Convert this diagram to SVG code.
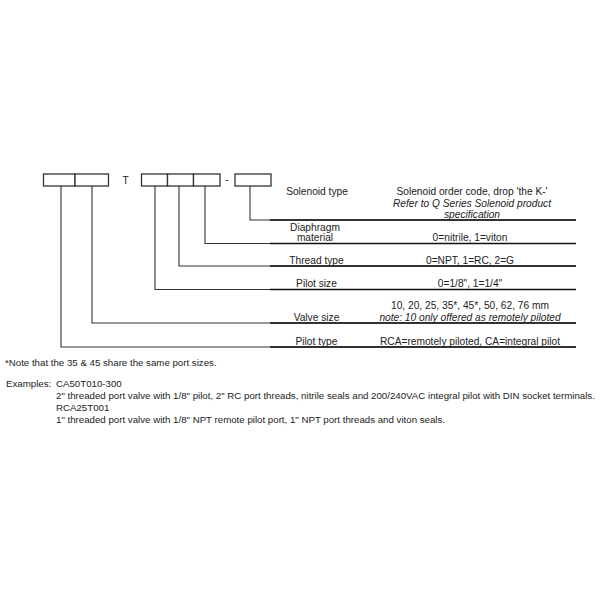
<svg xmlns="http://www.w3.org/2000/svg" width="600" height="600" viewBox="0 0 600 600">
<style>
text{font-family:"Liberation Sans",Arial,sans-serif;font-size:10.2px;fill:#222}
.c{text-anchor:middle}
.i{font-style:italic}
.box{fill:#fff;stroke:#333;stroke-width:1.3}
.lead{fill:none;stroke:#333;stroke-width:1.1}
.rule{stroke:#111;stroke-width:1.4}
.s{font-size:9.7px}
</style>
<rect width="600" height="600" fill="#fff"/>
<g id="code-boxes">
<g id="box-pilot-type"><rect class="box" x="43.5" y="174" width="31.5" height="12"/></g>
<g id="box-valve-size"><rect class="box" x="75" y="174" width="33.5" height="12"/></g>
<text x="125.5" y="183.5" class="c">T</text>
<g id="box-pilot-size"><rect class="box" x="141.5" y="174" width="26" height="12"/></g>
<g id="box-thread"><rect class="box" x="167.5" y="174" width="26" height="12"/></g>
<g id="box-diaphragm"><rect class="box" x="193.5" y="174" width="26.5" height="12"/></g>
<text x="227" y="183" class="c">-</text>
<g id="box-solenoid"><rect class="box" x="235" y="174" width="36" height="12"/></g>
</g>
<g id="connectors">
<polyline class="lead" points="250,186 250,220 576,220"/>
<polyline class="lead" points="205,186 205,243.5 576,243.5"/>
<polyline class="lead" points="179,186 179,266 576,266"/>
<polyline class="lead" points="155,186 155,289.5 576,289.5"/>
<polyline class="lead" points="92,186 92,323 576,323"/>
<polyline class="lead" points="61,186 61,347 576,347"/>
<line class="rule" x1="270" y1="220" x2="576" y2="220"/>
<line class="rule" x1="270" y1="243.5" x2="576" y2="243.5"/>
<line class="rule" x1="270" y1="266" x2="576" y2="266"/>
<line class="rule" x1="270" y1="289.5" x2="576" y2="289.5"/>
<line class="rule" x1="270" y1="323" x2="576" y2="323"/>
<line class="rule" x1="270" y1="347" x2="576" y2="347"/>
</g>
<g id="row-solenoid">
<text x="317" y="195" class="c">Solenoid type</text>
<text x="472" y="195" class="c">Solenoid order code, drop 'the K-'</text>
<text x="472" y="207" class="c i">Refer to Q Series Solenoid product</text>
<text x="472" y="218" class="c i">specification</text>
</g>
<g id="row-diaphragm">
<text x="315" y="231" class="c">Diaphragm</text>
<text x="315" y="241" class="c">material</text>
<text x="470" y="241" class="c">0=nitrile, 1=viton</text>
</g>
<g id="row-thread">
<text x="316.5" y="263.5" class="c">Thread type</text>
<text x="470" y="263.5" class="c">0=NPT, 1=RC, 2=G</text>
</g>
<g id="row-pilot-size">
<text x="316.5" y="287" class="c">Pilot size</text>
<text x="470" y="287" class="c">0=1/8", 1=1/4"</text>
</g>
<g id="row-valve-size">
<text x="470" y="309" class="c">10,  20, 25, 35*, 45*, 50, 62, 76 mm</text>
<text x="470" y="321" class="c i">note: 10 only offered as remotely piloted</text>
<text x="316.5" y="321" class="c">Valve size</text>
</g>
<g id="row-pilot-type">
<text x="316.5" y="344.5" class="c">Pilot type</text>
<text x="470" y="344.5" class="c">RCA=remotely piloted, CA=integral pilot</text>
</g>
<g id="notes">
<text x="5" y="366" class="s">*Note that the 35 &amp; 45 share the same port sizes.</text>
<text x="6" y="386.5" class="s">Examples:</text>
<text x="56" y="386.5" class="s">CA50T010-300</text>
<text x="56" y="398.5" class="s">2" threaded port valve with 1/8" pilot, 2" RC port threads, nitrile seals and 200/240VAC integral pilot with DIN socket terminals.</text>
<text x="56" y="410.5" class="s">RCA25T001</text>
<text x="56" y="422.5" class="s">1" threaded port valve with 1/8" NPT remote pilot port, 1" NPT port threads and viton seals.</text>
</g>
</svg>
